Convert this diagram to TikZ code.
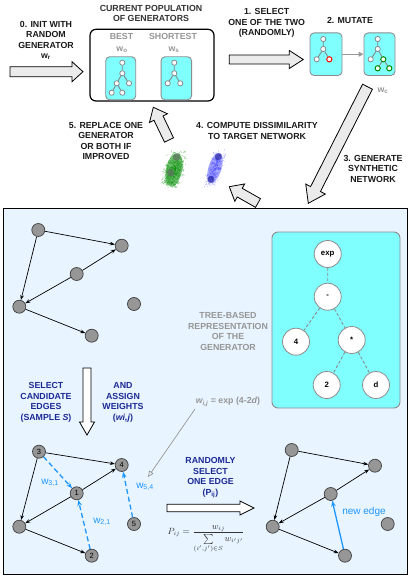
\documentclass[tikz,border=0pt]{standalone}
\usepackage{fontspec}
\setmainfont{Liberation Sans}
\usetikzlibrary{arrows.meta,calc}
\definecolor{cyanbox}{RGB}{128,255,255}
\definecolor{lightbg}{RGB}{232,244,255}
\definecolor{nodegray}{RGB}{150,150,150}
\definecolor{darkblue}{RGB}{28,42,150}
\definecolor{edgeblue}{RGB}{30,150,255}
\definecolor{txtgray}{RGB}{150,150,150}
\definecolor{arrowfill}{RGB}{235,235,235}
\newcommand\blockarrow[6]{%
  \coordinate (ba-h) at ($(#3)!#6!(#2)$);
  \filldraw[fill=#1, draw=black, line width=0.8pt, line join=miter]
    ($(#2)!#4!90:(#3)$) -- ($(ba-h)!#4!90:(#3)$) -- ($(ba-h)!#5!90:(#3)$) -- (#3)
    -- ($(ba-h)!#5!-90:(#3)$) -- ($(ba-h)!#4!-90:(#3)$) -- ($(#2)!#4!-90:(#3)$) -- cycle;
}
\tikzset{
 lab/.style={font=\fontsize{8.8}{10.5}\selectfont\bfseries, align=center, text=black!90, inner sep=0},
 bluelab/.style={lab, text=darkblue},
 graylab/.style={lab, text=txtgray},
 tnode/.style={circle, draw=black!50, fill=white, line width=0.7pt, minimum size=5.2pt, inner sep=0},
 rednode/.style={tnode, draw=red, line width=1pt},
 grnnode/.style={tnode, draw=green!55!black, line width=1pt},
 tedge/.style={draw=black!50, line width=0.8pt},
 cbox/.style={draw=black!45, fill=cyanbox, line width=0.9pt, rounded corners=4pt, inner sep=0},
 gnode/.style={circle, draw=black!75, fill=nodegray, line width=0.7pt, minimum size=13pt, inner sep=0, font=\fontsize{7.5}{8}\selectfont},
 garr/.style={-{Stealth[length=5pt,width=3.6pt]}, line width=0.7pt},
 candarr/.style={-{Stealth[length=6pt,width=4.6pt]}, draw=edgeblue, line width=1.3pt, dash pattern=on 5pt off 3pt},
 newarr/.style={-{Stealth[length=6pt,width=4.6pt]}, draw=edgeblue, line width=1.3pt},
 wlab/.style={text=edgeblue, font=\fontsize{10}{11}\selectfont, inner sep=0},
 bignode/.style={circle, draw=black!45, fill=white, line width=0.8pt, minimum size=27pt, inner sep=0, font=\fontsize{7.8}{8}\selectfont\bfseries},
 bigedge/.style={draw=black!45, line width=0.9pt, dash pattern=on 3pt off 2pt},
}
\begin{document}
\begin{tikzpicture}[x=1pt,y=-1pt]
\useasboundingbox (0,0) rectangle (411,578);

% ---------- top part ----------
\node[lab] (t0) at (46,40.5) {0. INIT WITH\\RANDOM\\GENERATOR\\w\textsubscript{r}};
\coordinate (a0s) at (10,71.7); \coordinate (a0e) at (83,71.7);
\blockarrow{arrowfill}{a0s}{a0e}{5pt}{10pt}{11pt}

\node[lab, text=black!80] (tpop) at (151,13.7) {CURRENT POPULATION\\OF GENERATORS};
\draw[line width=1.2pt, rounded corners=6pt] (90,29.3) rectangle (214,101);
\node[graylab] (tbest) at (121.5,36.7) {BEST};
\node[graylab] (twb) at (122,50) {w\textsubscript{o}};
\node[graylab] (tshort) at (173,36.7) {SHORTEST};
\node[graylab] (tws) at (174,50) {w\textsubscript{s}};

\node[cbox, minimum width=30pt, minimum height=43pt] (bbox) at (120.7,78.3) {};
\node[cbox, minimum width=30.5pt, minimum height=43pt] (sbox) at (176.3,78.3) {};
% best tree
\node[tnode] (b1) at (122.3,62.7) {};
\node[tnode] (b2) at (122.3,73.3) {};
\node[tnode] (b3) at (116.7,83.3) {};
\node[tnode] (b4) at (129,83.3) {};
\node[tnode] (b5) at (111.7,92.7) {};
\node[tnode] (b6) at (122.3,92.7) {};
\draw[tedge] (b1) -- (b2) (b2) -- (b3) (b2) -- (b4) (b3) -- (b5) (b3) -- (b6);
% shortest tree
\node[tnode] (s1) at (174.3,62.7) {};
\node[tnode] (s2) at (174.3,73.3) {};
\node[tnode] (s3) at (167.7,83.3) {};
\node[tnode] (s4) at (180.3,83.3) {};
\draw[tedge] (s1) -- (s2) (s2) -- (s3) (s2) -- (s4);

\node[lab] (t1) at (266.7,23) {1. SELECT\\ONE OF THE TWO\\(RANDOMLY)};
\coordinate (a1s) at (229.3,59.5); \coordinate (a1e) at (303.3,59.5);
\blockarrow{arrowfill}{a1s}{a1e}{4.5pt}{9pt}{14pt}

\node[lab] (t2) at (350,20) {2. MUTATE};
\node[cbox, minimum width=32pt, minimum height=42.5pt] (m1) at (326,54.2) {};
\node[cbox, minimum width=31pt, minimum height=42.5pt] (m2) at (379.5,54.2) {};
\node[tnode] (p1) at (323.3,39) {};
\node[tnode] (p2) at (323.3,49) {};
\node[tnode] (p3) at (316.7,59.3) {};
\node[rednode] (p4) at (329.3,59.3) {};
\draw[tedge] (p1) -- (p2) (p2) -- (p3) (p2) -- (p4);
\node[tnode] (q1) at (377.7,39) {};
\node[tnode] (q2) at (377.7,49) {};
\node[tnode] (q3) at (370.7,59.3) {};
\node[grnnode] (q4) at (383.3,59.3) {};
\node[grnnode] (q5) at (377.7,68.3) {};
\node[grnnode] (q6) at (389.3,68.3) {};
\draw[tedge] (q1) -- (q2) (q2) -- (q3) (q2) -- (q4) (q4) -- (q5) (q4) -- (q6);
\draw[draw=black!40, line width=1pt, -{Triangle[length=5pt,width=5pt]}] (m1) -- (m2);
\node[graylab] (twc) at (383,91) {w\textsubscript{c}};

\coordinate (a3s) at (367.5,86.7); \coordinate (a3e) at (308.3,203.3);
\blockarrow{arrowfill}{a3s}{a3e}{5.5pt}{11pt}{16pt}
\node[lab] (t3) at (373,168.5) {3. GENERATE\\SYNTHETIC\\NETWORK};

\node[lab] (t4) at (257,131) {4. COMPUTE DISSIMILARITY\\TO TARGET NETWORK};
\coordinate (a4s) at (258,203); \coordinate (a4e) at (229.3,186.7);
\blockarrow{arrowfill}{a4s}{a4e}{5pt}{10pt}{12pt}

\node[lab] (t5) at (106,141.2) {5. REPLACE ONE\\GENERATOR\\OR BOTH IF\\IMPROVED};
\coordinate (a5s) at (169,140); \coordinate (a5e) at (153.3,107.3);
\blockarrow{arrowfill}{a5s}{a5e}{5pt}{10pt}{12pt}

% blobs
\pgfmathsetseed{11}
\fill[green!55!black, opacity=.55, rotate around={-12:(174,170)}] (174,170) ellipse [x radius=8, y radius=17];
\foreach \i in {1,...,500}{
  \pgfmathsetmacro\u{(rand+rand)/2}
  \pgfmathsetmacro\v{(rand+rand)/2}
  \pgfmathsetmacro\ax{174+11*\u-4*\v}
  \pgfmathsetmacro\ay{170+21*\v}
  \draw[green!55!black, opacity=.45, line width=.35pt] (\ax,\ay) -- ++(2.5*rand,2.5*rand);
}
\fill[black!60, opacity=.6] (176.7,157) circle (3.8);
\fill[black!60, opacity=.6] (170.7,172.7) circle (3.8);
\fill[blue!70!white, opacity=.45, rotate around={-17:(215,168)}] (215,168) ellipse [x radius=6.5, y radius=16];
\foreach \i in {1,...,400}{
  \pgfmathsetmacro\u{(rand+rand)/2}
  \pgfmathsetmacro\v{(rand+rand)/2}
  \pgfmathsetmacro\ax{215+8*\u-6*\v}
  \pgfmathsetmacro\ay{168+19*\v}
  \draw[blue!75!white, opacity=.4, line width=.35pt] (\ax,\ay) -- ++(2*rand,2*rand);
}
\fill[blue!50!black, opacity=.5] (218.3,156.7) circle (3.5);
\fill[blue!50!black, opacity=.5] (211,179.3) circle (3.5);

% ---------- main box ----------
\draw[fill=lightbg, line width=1.8pt] (3.5,208.5) rectangle (407.5,574.5);

% top-left network
\node[gnode] (A) at (38.3,230) {};
\node[gnode] (B) at (121.7,245.7) {};
\node[gnode] (C) at (76.7,274) {};
\node[gnode] (D) at (19.3,306.7) {};
\node[gnode] (E) at (134,304) {};
\node[gnode] (F) at (91.7,335.7) {};
\draw[garr] (A) -- (B);
\draw[garr] (A) -- (D);
\draw[garr] (C) -- (B);
\draw[garr] (C) -- (D);
\draw[garr] (D) -- (F);

% tree box
\draw[cbox, rounded corners=6pt] (272,232) rectangle (400,408);
\node[bignode] (texp) at (327.7,254) {exp};
\node[bignode] (tmin) at (327.7,296.7) {-};
\node[bignode] (tfour) at (296,341.7) {4};
\node[bignode] (tmul) at (351.7,340) {*};
\node[bignode] (ttwo) at (326.7,385) {2};
\node[bignode] (td) at (376,385) {d};
\draw[bigedge] (texp) -- (tmin) (tmin) -- (tfour) (tmin) -- (tmul) (tmul) -- (ttwo) (tmul) -- (td);
\node[graylab] (ttree) at (228,331.7) {TREE-BASED\\REPRESENTATION\\OF THE\\GENERATOR};

% select arrow
\coordinate (ads) at (87,368); \coordinate (ade) at (87,435);
\blockarrow{white}{ads}{ade}{4pt}{7.5pt}{13pt}
\node[bluelab] (tsel) at (46,402.5) {SELECT\\CANDIDATE\\EDGES\\(SAMPLE \textit{S})};
\node[bluelab] (tand) at (123,402.5) {AND\\ASSIGN\\WEIGHTS\\(\textit{wi,j})};
\node[graylab] (tform) at (228,402) {\textit{w\textsubscript{i,j}} = exp (4-2\textit{d})};
\coordinate (gfrom) at (195,409);
\coordinate (gto) at (148,477);
\draw[draw=black!45, line width=0.6pt, -{Triangle[open,length=6pt,width=5pt]}] (gfrom) -- (gto);

% bottom-left network
\node[gnode] (n3) at (39,451.7) {3};
\node[gnode] (n4) at (121.7,465) {4};
\node[gnode] (n1) at (76.7,493.3) {1};
\node[gnode] (nx) at (19.3,526.7) {};
\node[gnode] (n5) at (134,524) {5};
\node[gnode] (n2) at (91.7,555.7) {2};
\draw[garr] (n3) -- (n4);
\draw[garr] (n3) -- (nx);
\draw[garr] (n1) -- (n4);
\draw[garr] (n1) -- (nx);
\draw[garr] (nx) -- (n2);
\draw[candarr] (n3) -- (n1);
\draw[candarr] (n2) -- (n1);
\draw[candarr] (n5) -- (n4);
\node[wlab] (w31) at (50,483) {w\textsubscript{3,1}};
\node[wlab] (w21) at (102,522) {w\textsubscript{2,1}};
\node[wlab] (w54) at (145,487) {w\textsubscript{5,4}};

% random select
\node[bluelab] (trand) at (210.5,477.5) {RANDOMLY\\SELECT\\ONE EDGE\\(P\textsubscript{ij})};
\coordinate (ars) at (167,508); \coordinate (are) at (254,508);
\blockarrow{white}{ars}{are}{3.8pt}{7pt}{14pt}
\node[font=\fontsize{8.8}{10}\selectfont, text=black!80, inner sep=0] (tp) at (206,539)
  {$\displaystyle P_{ij} = \frac{w_{ij}}{\sum\limits_{(i',j')\in S} w_{i'j'}}$};

% bottom-right network
\node[gnode] (ra) at (291.7,450) {};
\node[gnode] (rb) at (375,465.7) {};
\node[gnode] (rc) at (330.7,494) {};
\node[gnode] (rd) at (272.7,526.7) {};
\node[gnode] (re) at (387.7,524) {};
\node[gnode] (rf) at (345,555.7) {};
\draw[garr] (ra) -- (rb);
\draw[garr] (ra) -- (rd);
\draw[garr] (rc) -- (rb);
\draw[garr] (rc) -- (rd);
\draw[garr] (rd) -- (rf);
\draw[newarr] (rf) -- (rc);
\node[wlab] (tnew) at (364,512) {new edge};
\end{tikzpicture}
\end{document}
